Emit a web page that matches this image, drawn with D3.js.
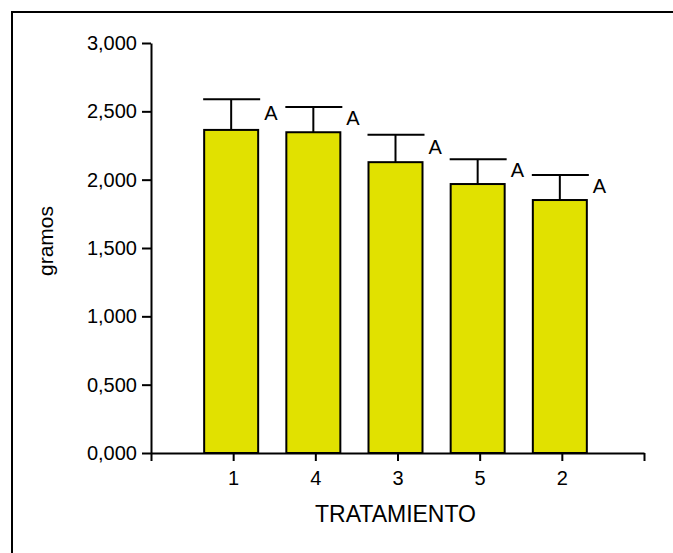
<!DOCTYPE html>
<html>
<head>
<meta charset="utf-8">
<script src="https://cdn.jsdelivr.net/npm/d3@7"></script>
<style>
  html, body { margin: 0; padding: 0; background: #fff; }
  svg { display: block; font-family: "Liberation Sans", Arial, sans-serif; }
</style>
</head>
<body>
<svg id="chart" width="673" height="553"></svg>
<script>
// Treatments in display order, mean weight (g) and standard error
const categories = ["1", "4", "3", "5", "2"];
const means = [2.364, 2.347, 2.128, 1.968, 1.851];
const errors = [0.225, 0.184, 0.200, 0.181, 0.183];
const groups = ["A", "A", "A", "A", "A"];
const yTicks = [0, 0.5, 1, 1.5, 2, 2.5, 3];

const svg = d3.select("#chart");

// outer frame
svg.append("rect")
  .attr("x", 12).attr("y", 12)
  .attr("width", 700).attr("height", 600)
  .attr("fill", "none").attr("stroke", "#000").attr("stroke-width", 2);

const x = d3.scaleLinear().domain([0, categories.length + 1]).range([151, 644]);
const y = d3.scaleLinear().domain([0, 3]).range([453, 43]);
const fmt = v => d3.format(".3f")(v).replace(".", ",");

const barW = 54;
const cx = i => x(i + 1) - 2;

// y axis
const yAxis = svg.append("g")
  .attr("transform", `translate(${x(0)},0)`)
  .call(d3.axisLeft(y).tickValues(yTicks).tickFormat(fmt).tickSize(9).tickSizeOuter(0).tickPadding(5));

// x axis
const xAxis = svg.append("g")
  .attr("transform", `translate(0,${y(0)})`)
  .call(d3.axisBottom(x)
    .tickValues(d3.range(0, categories.length + 2))
    .tickFormat(v => (v >= 1 && v <= categories.length) ? categories[v - 1] : "")
    .tickSize(8).tickSizeOuter(0).tickPadding(10));

[yAxis, xAxis].forEach(g => {
  g.select(".domain").attr("stroke", "#000").attr("stroke-width", 2);
  g.selectAll(".tick line").attr("stroke", "#000").attr("stroke-width", 2);
  g.selectAll(".tick text").attr("fill", "#000").style("font-size", "20px")
    .style("font-family", "'Liberation Sans', Arial, sans-serif");
});

// error bars (upper side only)
const eb = svg.append("g").attr("stroke", "#000").attr("stroke-width", 2);
means.forEach((m, i) => {
  eb.append("line")
    .attr("x1", cx(i)).attr("x2", cx(i))
    .attr("y1", y(m)).attr("y2", y(m + errors[i]));
  eb.append("line")
    .attr("x1", cx(i) - barW / 2 - 1).attr("x2", cx(i) + barW / 2 + 2)
    .attr("y1", y(m + errors[i])).attr("y2", y(m + errors[i]));
});

// bars
svg.append("g").selectAll("rect")
  .data(means)
  .join("rect")
  .attr("x", (d, i) => cx(i) - barW / 2)
  .attr("y", d => y(d))
  .attr("width", barW)
  .attr("height", d => y(0) - y(d))
  .attr("fill", "#e1e100")
  .attr("stroke", "#000")
  .attr("stroke-width", 2);

// group letters
svg.append("g").selectAll("text")
  .data(groups)
  .join("text")
  .attr("x", (d, i) => cx(i) + barW / 2 + 6)
  .attr("y", (d, i) => y(means[i] + errors[i] / 2) + 5)
  .attr("font-size", 20)
  .attr("fill", "#000")
  .text(d => d);

// axis titles
svg.append("text")
  .attr("x", (x.range()[0] + x.range()[1]) / 2 - 2)
  .attr("y", 522)
  .attr("text-anchor", "middle")
  .attr("font-size", 23)
  .text("TRATAMIENTO");

svg.append("text")
  .attr("transform", "translate(53,241) rotate(-90)")
  .attr("text-anchor", "middle")
  .attr("font-size", 21)
  .text("gramos");
</script>
</body>
</html>
